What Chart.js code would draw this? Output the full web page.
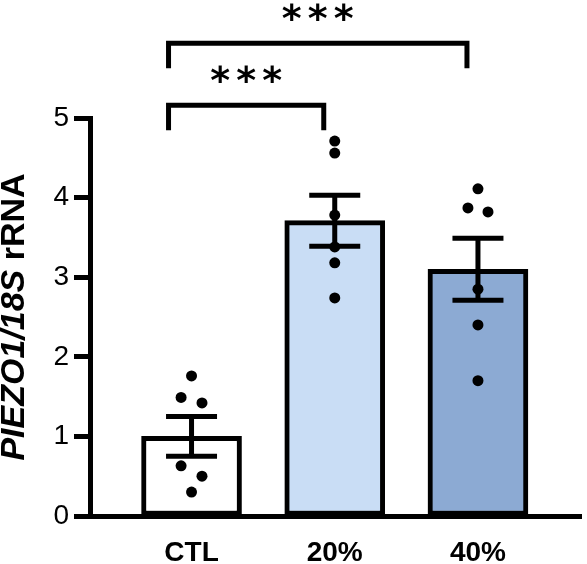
<!DOCTYPE html>
<html>
<head>
<meta charset="utf-8">
<script src="https://cdn.jsdelivr.net/npm/chart.js@4/dist/chart.umd.min.js"></script>
<style>
  html, body { margin:0; padding:0; background:#fff; }
  #wrap { width:587px; height:564px; }
</style>
</head>
<body>
<div id="wrap"><canvas id="chart"></canvas></div>
<script>
// groups and values
const categories = ['CTL', '20%', '40%'];
const means = [1.00, 3.71, 3.10];
const sems = [0.25, 0.32, 0.39];
const ctlPoints = [1.76, 1.49, 1.42, 0.63, 0.50, 0.30];
const p20Points = [4.71, 4.56, 3.78, 3.38, 3.18, 2.74];
const p40Points = [4.11, 3.87, 3.82, 2.85, 2.40, 1.70];
// small horizontal spread of overlapping dots (in category units)
const ctlJitter = [0, -0.073, 0.073, -0.073, 0.073, 0];
const p20Jitter = [0, 0, 0, 0, 0, 0];
const p40Jitter = [0, -0.07, 0.07, 0, 0, 0];
const barColors = ['#ffffff', '#c9ddf5', '#8caad3'];
const yTicks = [0, 1, 2, 3, 4, 5];
// significance comparisons
const sigFrom = [0, 0];
const sigTo = [1, 2];
const sigLevel = [5.16, 5.94];
const sigLabel = ['***', '***'];

const dots = [];
[ctlPoints, p20Points, p40Points].forEach((arr, i) => {
  const jit = [ctlJitter, p20Jitter, p40Jitter][i];
  arr.forEach((v, k) => dots.push({ x: i + jit[k], y: v }));
});

const FONT = '"Liberation Sans", Arial, sans-serif';

const extras = {
  id: 'extras',
  afterDatasetsDraw(chart) {
    const { ctx, scales: { x, y } } = chart;
    ctx.save();
    ctx.strokeStyle = '#000';
    ctx.lineWidth = 5;
    ctx.lineCap = 'butt';
    // error bars (upper + lower cap)
    means.forEach((m, i) => {
      const cx = x.getPixelForValue(i);
      const top = y.getPixelForValue(m + sems[i]);
      const bot = y.getPixelForValue(m - sems[i]);
      ctx.beginPath();
      ctx.moveTo(cx, top); ctx.lineTo(cx, bot);
      ctx.moveTo(cx - 25.5, top); ctx.lineTo(cx + 25.5, top);
      ctx.moveTo(cx - 25.5, bot); ctx.lineTo(cx + 25.5, bot);
      ctx.stroke();
    });
    // significance brackets
    ctx.fillStyle = '#000';
    ctx.font = 'bold 38px "DejaVu Sans", sans-serif';
    ctx.textAlign = 'center';
    ctx.textBaseline = 'alphabetic';
    const m = ctx.measureText('*');
    sigFrom.forEach((a, i) => {
      const x1 = x.getPixelForValue(a) - 23;
      const x2 = x.getPixelForValue(sigTo[i]) - 11;
      const yy = y.getPixelForValue(sigLevel[i]);
      ctx.beginPath();
      ctx.moveTo(x1, yy + 25); ctx.lineTo(x1, yy); ctx.lineTo(x2, yy); ctx.lineTo(x2, yy + 25);
      ctx.stroke();
      const cx = (x1 + x2) / 2;
      const bottom = yy - 22;
      const base = bottom - m.actualBoundingBoxDescent;
      const chars = sigLabel[i].split('');
      chars.forEach((c, k) => {
        ctx.fillText(c, cx + (k - (chars.length - 1) / 2) * 26, base);
      });
    });
    // y axis title, mixed italic / upright
    const t1 = 'PIEZO1/18S', t2 = ' rRNA';
    ctx.translate(15, (y.top + y.bottom) / 2);
    ctx.rotate(-Math.PI / 2);
    ctx.textBaseline = 'middle';
    ctx.textAlign = 'left';
    ctx.font = 'italic bold 34px ' + FONT;
    const w1 = ctx.measureText(t1).width;
    ctx.font = 'bold 34px ' + FONT;
    const w2 = ctx.measureText(t2).width;
    const start = -(w1 + w2) / 2;
    ctx.font = 'italic bold 34px ' + FONT;
    ctx.fillText(t1, start, 0);
    ctx.font = 'bold 34px ' + FONT;
    ctx.fillText(t2, start + w1, 0);
    ctx.restore();
  }
};

new Chart(document.getElementById('chart'), {
  type: 'bar',
  data: {
    datasets: [
      {
        type: 'bar',
        data: means.map((v, i) => ({ x: i, y: v })),
        backgroundColor: barColors,
        borderColor: '#000',
        borderWidth: 5,
        borderSkipped: false,
        barThickness: 100,
        grouped: false,
        order: 2
      },
      {
        type: 'scatter',
        data: dots,
        pointRadius: 5.5,
        pointBackgroundColor: '#000',
        pointBorderWidth: 0,
        showLine: false,
        order: 1
      }
    ]
  },
  plugins: [extras],
  options: {
    responsive: true,
    maintainAspectRatio: false,
    animation: false,
    layout: { padding: { top: 118, right: 1, left: 0, bottom: 0 } },
    plugins: { legend: { display: false }, tooltip: { enabled: false } },
    scales: {
      x: {
        type: 'linear',
        offset: false,
        min: -0.709,
        max: 2.723,
        afterBuildTicks: s => { s.ticks = categories.map((c, i) => ({ value: i })); },
        afterFit: s => { s.height = 48; },
        grid: { display: true, offset: false, drawOnChartArea: false, drawTicks: false },
        border: { display: true, color: '#000', width: 5 },
        ticks: {
          callback: v => categories[v],
          color: '#000',
          padding: 20,
          maxRotation: 0,
          font: { family: FONT, size: 28, weight: 'bold' }
        }
      },
      y: {
        min: 0,
        max: 5,
        afterBuildTicks: s => { s.ticks = yTicks.map(v => ({ value: v })); },
        afterFit: s => { s.width = 90; },
        grid: { display: true, drawOnChartArea: false, tickLength: 16, tickWidth: 5, tickColor: '#000' },
        border: { display: true, color: '#000', width: 5 },
        ticks: {
          color: '#000',
          padding: 5,
          font: { family: FONT, size: 28 }
        }
      }
    }
  }
});
</script>
</body>
</html>
